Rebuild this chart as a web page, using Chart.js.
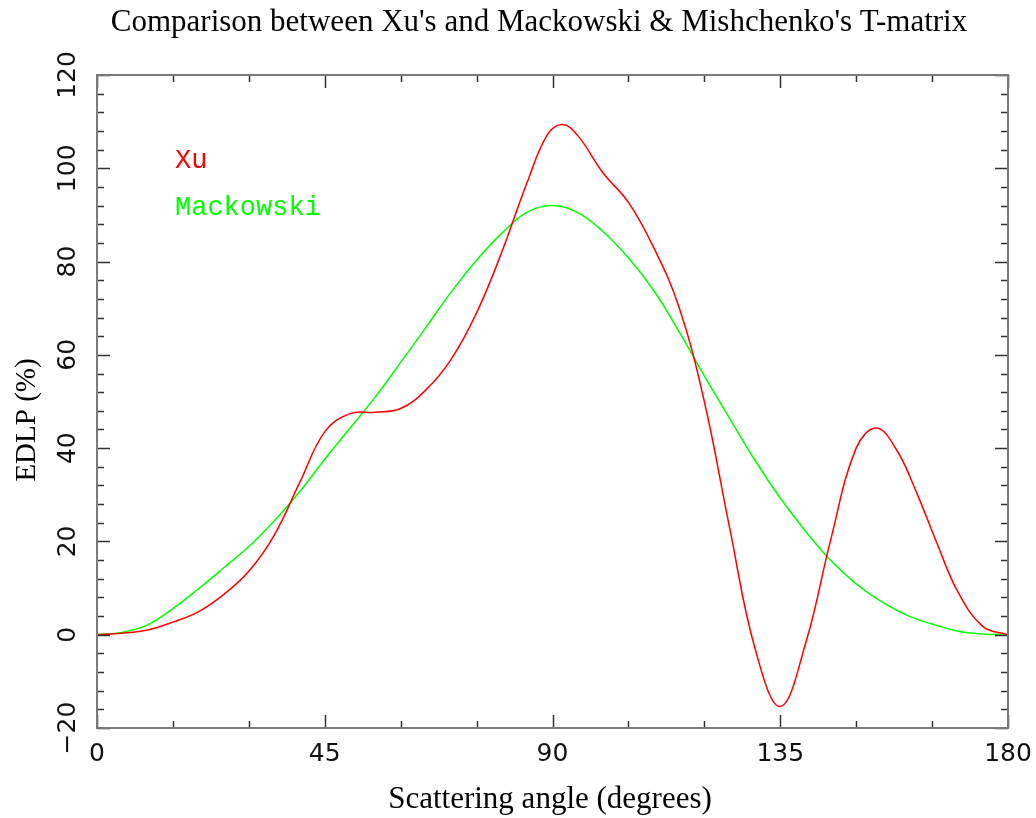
<!DOCTYPE html>
<html>
<head>
<meta charset="utf-8">
<script src="https://cdn.jsdelivr.net/npm/chart.js@4"></script>
<style>
  html, body { margin: 0; padding: 0; background: #fff; }
  #wrap { width: 1036px; height: 818px; position: relative; }
</style>
</head>
<body>
<div id="wrap"><canvas id="edlp"></canvas></div>
<script>
// EDLP vs scattering angle

const xuAngles = [0, 5, 10, 15, 20, 25, 30, 35, 40, 45, 50, 55, 60, 65, 70, 75, 80, 85, 89, 92,
    95, 100, 105, 110, 115, 120, 125, 130, 135, 140, 145, 150, 154, 158, 162, 166, 170, 175, 180];
const xuValues = [0, 0.3, 1.0, 2.7, 4.9, 8.6, 13.6, 21.3, 32.5, 43.5, 47.4, 47.7, 48.5, 52.5, 59.1, 69.0, 82.1, 97.0, 107.2, 109.4,
    107.0, 99.0, 92.7, 83.0, 70.2, 50.0, 22.9, -2.9, -15.4, -1.9, 20.5, 40.0, 44.3, 39.6, 30.3, 19.5, 9.4, 1.8, 0];

const mackAngles = [0, 5, 10, 15, 20, 25, 30, 35, 40, 45, 50, 55, 60, 65, 70, 75, 80, 85, 90,
    95, 100, 105, 110, 115, 120, 125, 130, 135, 140, 145, 150, 155, 160, 165, 170, 175, 180];
const mackValues = [0, 0.5, 2.1, 5.6, 9.8, 14.3, 18.9, 24.4, 30.6, 37.6, 44.3, 51.0, 58.4, 65.9, 73.5, 80.3, 86.1, 90.6, 92.0,
    90.5, 86.4, 80.8, 73.8, 65.0, 55.5, 46.4, 37.4, 29.3, 22.2, 15.9, 10.9, 7.1, 4.2, 2.3, 0.8, 0.15, 0];

const seriesNames = ['Xu', 'Mackowski'];
const xTicks = [0, 45, 90, 135, 180];
const yTicks = [-20, 0, 20, 40, 60, 80, 100, 120];

const titleText = "Comparison between Xu's and Mackowski & Mishchenko's T-matrix";
const xTitle = 'Scattering angle (degrees)';
const yTitle = 'EDLP (%)';

const toPoints = (xs, ys) => xs.map((a, i) => ({ x: a, y: ys[i] }));

// frame, inward ticks, titles and the text legend
const framePlugin = {
    id: 'framePlugin',
    afterDatasetsDraw(chart) {
        const { ctx, chartArea: a, scales: { x, y } } = chart;
        ctx.save();

        ctx.strokeStyle = '#333';
        ctx.lineWidth = 1.5;
        ctx.beginPath();
        for (let v = 0; v <= 180; v += 15) {
            const px = Math.round(x.getPixelForValue(v)) + 0.5;
            const len = (v % 45 === 0) ? 13 : 7;
            ctx.moveTo(px, a.bottom); ctx.lineTo(px, a.bottom - len);
            ctx.moveTo(px, a.top); ctx.lineTo(px, a.top + len);
        }
        for (let v = -20; v <= 120; v += 4) {
            const py = Math.round(y.getPixelForValue(v)) + 0.5;
            const len = (v % 20 === 0) ? 13 : 7;
            ctx.moveTo(a.left, py); ctx.lineTo(a.left + len, py);
            ctx.moveTo(a.right, py); ctx.lineTo(a.right - len, py);
        }
        ctx.stroke();

        ctx.strokeStyle = '#7a7a7a';
        ctx.lineWidth = 2;
        ctx.strokeRect(a.left, a.top, a.right - a.left, a.bottom - a.top);

        ctx.fillStyle = '#000';
        ctx.textAlign = 'center';
        ctx.textBaseline = 'middle';
        ctx.font = '31px "Liberation Serif"';
        ctx.fillText(titleText, 539, 23);
        ctx.font = '31px "Liberation Serif"';
        ctx.fillText(xTitle, 550, 800);
        ctx.save();
        ctx.translate(27, 420);
        ctx.rotate(-Math.PI / 2);
        ctx.font = '29px "Liberation Serif"';
        ctx.fillText(yTitle, 0, 0);
        ctx.restore();

        ctx.textAlign = 'left';
        ctx.textBaseline = 'alphabetic';
        ctx.font = '27px "Liberation Mono"';
        chart.data.datasets.forEach((ds, i) => {
            ctx.fillStyle = ds.borderColor;
            ctx.fillText(ds.label, a.left + 78, a.top + 93 + i * 47);
        });
        ctx.restore();
    }
};

new Chart(document.getElementById('edlp'), {
    type: 'line',
    data: {
        datasets: [
            {
                label: seriesNames[0],
                data: toPoints(xuAngles, xuValues),
                borderColor: '#ff0000',
                borderWidth: 1.5,
                pointRadius: 0,
                tension: 0.4
            },
            {
                label: seriesNames[1],
                data: toPoints(mackAngles, mackValues),
                borderColor: '#00ff00',
                borderWidth: 1.5,
                pointRadius: 0,
                tension: 0.4
            }
        ]
    },
    options: {
        responsive: true,
        maintainAspectRatio: false,
        animation: false,
        layout: { padding: { top: 75, right: 28, left: 0, bottom: 0 } },
        plugins: {
            legend: { display: false },
            tooltip: { enabled: false }
        },
        scales: {
            x: {
                type: 'linear',
                min: 0, max: 180,
                afterBuildTicks: s => { s.ticks = xTicks.map(v => ({ value: v })); },
                grid: { display: false, drawTicks: false },
                border: { display: false },
                ticks: { color: '#111', font: { family: 'DejaVu Sans', size: 25 }, padding: 11, maxRotation: 0 },
                afterFit: s => { s.height = 90; s.paddingLeft = 0; s.paddingRight = 0; }
            },
            y: {
                type: 'linear',
                min: -20, max: 120,
                afterBuildTicks: s => { s.ticks = yTicks.map(v => ({ value: v })); },
                grid: { display: false, drawTicks: false },
                border: { display: false },
                ticks: {
                    color: '#111',
                    font: { family: 'DejaVu Sans', size: 25 },
                    minRotation: 90, maxRotation: 90,
                    crossAlign: 'center',
                    padding: 2,
                    callback: v => (v < 0 ? '\u2212' + Math.abs(v) : String(v))
                },
                afterFit: s => { s.width = 97; s.paddingTop = 0; s.paddingBottom = 0; }
            }
        }
    },
    plugins: [framePlugin]
});
</script>
</body>
</html>
